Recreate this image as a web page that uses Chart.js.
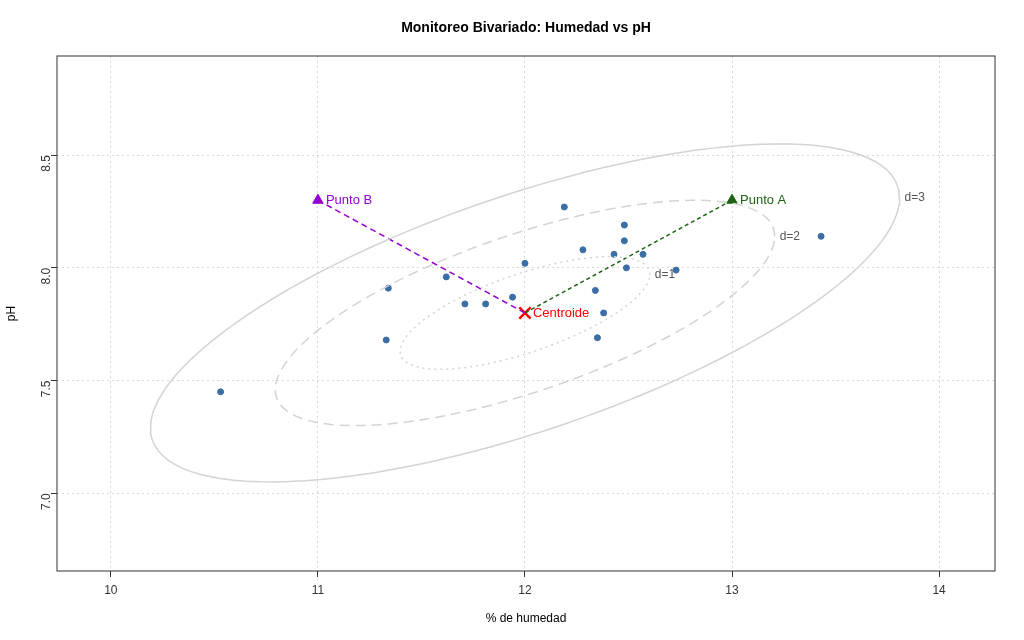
<!DOCTYPE html>
<html><head><meta charset="utf-8">
<script src="https://cdn.jsdelivr.net/npm/chart.js@4"></script>
<style>body{margin:0;background:#fff}#c{display:block}</style>
</head><body>
<canvas id="c" width="1024" height="640"></canvas>
<script>
const humedad = [10.53, 11.34, 11.33, 11.62, 11.71, 11.81, 11.94, 12.00, 12.19, 12.28, 12.34, 12.38, 12.35, 12.43, 12.48, 12.48, 12.49, 12.57, 12.73, 13.43];
const ph = [7.45, 7.91, 7.68, 7.96, 7.84, 7.84, 7.87, 8.02, 8.27, 8.08, 7.90, 7.80, 7.69, 8.06, 8.19, 8.12, 8.00, 8.06, 7.99, 8.14];
const centroide = { x: 12, y: 7.8 };
const puntoA = { x: 13, y: 8.3 };
const puntoB = { x: 11, y: 8.3 };
const sdX = 0.603, sdY = 0.25, rho = 0.68;
const niveles = [1, 2, 3];
const xTicks = [10, 11, 12, 13, 14];
const yTicks = [7.0, 7.5, 8.0, 8.5];

// Mahalanobis contour: mu + d * L * (cos t, sin t)
function elipse(d) {
  const pts = [];
  for (let i = 0; i <= 120; i++) {
    const t = i / 120 * 2 * Math.PI;
    const u = Math.cos(t), v = Math.sin(t);
    pts.push({
      x: centroide.x + d * sdX * u,
      y: centroide.y + d * sdY * (rho * u + Math.sqrt(1 - rho * rho) * v)
    });
  }
  return pts;
}
const estilos = { 1: [2, 4], 2: [10, 6], 3: [] };
const elipses = niveles.map(d => ({
  data: elipse(d), showLine: true, pointRadius: 0, borderColor: '#d3d3d3',
  borderWidth: 1.5, borderDash: estilos[d], fill: false, tension: 0
}));

const textos = {
  id: 'textos',
  afterDatasetsDraw(chart) {
    const { ctx, scales: { x, y }, chartArea: a } = chart;
    ctx.save();
    ctx.strokeStyle = '#333'; ctx.lineWidth = 1;
    ctx.strokeRect(a.left, a.top, a.right - a.left, a.bottom - a.top);
    ctx.font = '12px Liberation Sans, Arial'; ctx.textBaseline = 'middle'; ctx.textAlign = 'left';
    niveles.forEach(d => {
      // label at the rightmost point of each contour
      const px = centroide.x + d * sdX, py = centroide.y + d * sdY * rho;
      ctx.fillStyle = '#555';
      ctx.fillText('d=' + d, x.getPixelForValue(px) + 5, y.getPixelForValue(py));
    });
    ctx.font = '13px Liberation Sans, Arial';
    ctx.fillStyle = '#1e6414'; ctx.fillText('Punto A', x.getPixelForValue(puntoA.x) + 8, y.getPixelForValue(puntoA.y));
    ctx.fillStyle = '#9400d3'; ctx.fillText('Punto B', x.getPixelForValue(puntoB.x) + 8, y.getPixelForValue(puntoB.y));
    ctx.fillStyle = '#ff0000'; ctx.fillText('Centroide', x.getPixelForValue(centroide.x) + 8, y.getPixelForValue(centroide.y));
    ctx.fillStyle = '#000'; ctx.textAlign = 'center';
    ctx.font = 'bold 14px Liberation Sans, Arial';
    ctx.fillText('Monitoreo Bivariado: Humedad vs pH', (a.left + a.right) / 2, 28);
    ctx.font = '12px Liberation Sans, Arial';
    ctx.fillText('% de humedad', (a.left + a.right) / 2, 619);
    ctx.translate(12, (a.top + a.bottom) / 2); ctx.rotate(-Math.PI / 2);
    ctx.fillText('pH', 0, 0);
    ctx.restore();
  }
};

new Chart(document.getElementById('c'), {
  type: 'scatter',
  data: {
    datasets: [
      ...elipses,
      { data: [centroide, puntoB], showLine: true, pointRadius: 0, borderColor: '#9400d3', borderWidth: 1.5, borderDash: [6, 4] },
      { data: [centroide, puntoA], showLine: true, pointRadius: 0, borderColor: '#1e6414', borderWidth: 1.5, borderDash: [4, 3] },
      { data: humedad.map((h, i) => ({ x: h, y: ph[i] })), pointRadius: 3, backgroundColor: '#3a6ea5', borderColor: '#3a6ea5' },
      { data: [puntoA], pointStyle: 'triangle', pointRadius: 6, backgroundColor: '#1e6414', borderColor: '#1e6414' },
      { data: [puntoB], pointStyle: 'triangle', pointRadius: 6, backgroundColor: '#9400d3', borderColor: '#9400d3' },
      { data: [centroide], pointStyle: 'crossRot', pointRadius: 8, borderWidth: 2.5, borderColor: '#ff0000' }
    ]
  },
  options: {
    responsive: false, animation: false, devicePixelRatio: 1,
    layout: { padding: { top: 56, right: 29, left: 0, bottom: 0 } },
    plugins: { legend: { display: false }, tooltip: { enabled: false } },
    scales: {
      x: {
        min: 9.74, max: 14.27,
        afterBuildTicks: s => { s.ticks = xTicks.map(v => ({ value: v })); },
        afterFit: s => { s.height = 69; },
        grid: { color: '#d9d9d9', tickLength: 6, tickColor: '#333', drawTicks: true },
        border: { display: false, dash: [2, 3] },
        ticks: { color: '#333', font: { size: 12, family: 'Liberation Sans' }, padding: 6, callback: v => v }
      },
      y: {
        min: 6.655, max: 8.94,
        afterBuildTicks: s => { s.ticks = yTicks.map(v => ({ value: v })); },
        afterFit: s => { s.width = 57; },
        grid: { color: '#d9d9d9', tickLength: 6, tickColor: '#333' },
        border: { display: false, dash: [2, 3] },
        ticks: { color: '#333', font: { size: 12, family: 'Liberation Sans' }, minRotation: 90, maxRotation: 90, padding: 4, callback: v => v.toFixed(1) }
      }
    }
  },
  plugins: [textos]
});
</script>
</body></html>
